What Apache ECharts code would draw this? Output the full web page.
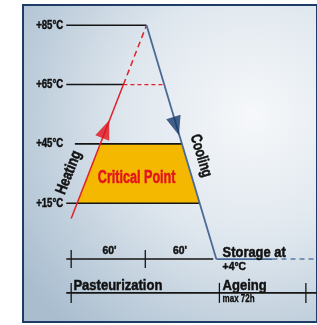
<!DOCTYPE html>
<html>
<head>
<meta charset="utf-8">
<script src="https://cdn.jsdelivr.net/npm/echarts@6/dist/echarts.min.js"></script>
<style>
    html, body {margin: 0; padding: 0; background: #fff;}
    #main {width: 317px; height: 325px;}
</style>
</head>
<body>
<div id="main"></div>
<script>
// temperature scale of the diagram is stretched: each labelled step gets one row
const tempTicks = [4, 15, 45, 65, 85];
const tickRows = [-0.94, 0, 1, 2, 3];
const axisTemps = [15, 45, 65, 85];
const axisLabels = ['+15°C', '+45°C', '+65°C', '+85°C'];

// process curve (minutes, °C)
const heatTime = [0, 42.3];
const heatTemp = [12, 65];
const heatDashTime = [42.3, 61];
const heatDashTemp = [65, 85];
const coolTime = [61, 117.5];
const coolTemp = [85, 4];
const storeTime = [117.5, 163];
const storeDashTime = [163, 199];
const storeTemp = 4;
const holdTime = [42.3, 75.3];
const holdTemp = 65;

// critical zone between heating and cooling
const critTime = [4.8, 23.5, 89.7, 104];
const critTemp = [15, 45, 45, 15];

// horizontal guides from the temperature labels
const guideTemp = [85, 65, 45, 15];
const guideStart = [-4, -4, 3, -4];
const guideEnd = [61, 42.3, 89.7, 104];

// time rows
const timeTicks = [0, 60];
const timeLabelAt = [31, 88];
const timeLabels = ["60'", "60'"];
const timeLineEnd = 115;
const phaseTicks = [0, 120, 190];
const phaseNames = ['Pasteurization', 'Ageing'];
const phaseNameAt = [1.8, 122.6];

const FONT = "'Liberation Sans', Arial, sans-serif";
const PHASE_ROW = -1.51;
const LABEL_TIME = -6.4;

function row(temp) {
    for (let i = 0; i < tempTicks.length - 1; i++) {
        if (temp <= tempTicks[i + 1] || i === tempTicks.length - 2) {
            const f = (temp - tempTicks[i]) / (tempTicks[i + 1] - tempTicks[i]);
            return tickRows[i] + f * (tickRows[i + 1] - tickRows[i]);
        }
    }
}

const pairs = (ts, temps) => ts.map((t, i) => [t, row(Array.isArray(temps) ? temps[i] : temps)]);

function line(data, color, width, type) {
    return {
        type: 'line', data: data, showSymbol: false, silent: true, clip: false,
        lineStyle: {color: color, width: width, type: type || 'solid'}
    };
}

// condensed bold text placed through the axes
function text(x, y, str, o) {
    o = Object.assign({size: 12, color: '#111', align: 'center', va: 'middle', rot: 0, sx: 0.8, dx: 0, dy: 0, bold: 0.5}, o);
    return {
        type: 'custom', silent: true, data: [[x, y]], z: 10,
        renderItem: (params, api) => {
            const p = api.coord([api.value(0), api.value(1)]);
            return {
                type: 'text', x: p[0] + o.dx, y: p[1] + o.dy,
                rotation: o.rot * Math.PI / 180, scaleX: o.sx,
                style: {
                    text: str, fill: o.color, font: `bold ${o.size}px ${FONT}`,
                    stroke: o.color, lineWidth: o.bold,
                    align: o.align, verticalAlign: o.va
                }
            };
        }
    };
}

function ticks(ts, y, half, color) {
    return {
        type: 'custom', silent: true, data: ts.map(t => [t, y]),
        renderItem: (params, api) => {
            const p = api.coord([api.value(0), api.value(1)]);
            return {
                type: 'line',
                shape: {x1: p[0], y1: p[1] - half, x2: p[0], y2: p[1] + half},
                style: {stroke: color, lineWidth: 1.3}
            };
        }
    };
}

function arrow(t, temp, rot, color) {
    return {
        type: 'scatter', silent: true, data: [[t, row(temp)]], symbol: 'triangle',
        symbolSize: [15, 19], symbolRotate: rot, itemStyle: {color: color}, z: 5
    };
}

const series = [];

series.push({
    type: 'custom', silent: true, data: [0],
    renderItem: (params, api) => ({
        type: 'polygon',
        shape: {points: critTime.map((t, i) => api.coord([t, row(critTemp[i])]))},
        style: {fill: '#f5b800'}
    })
});

guideTemp.forEach((tp, i) => {
    series.push(line([[guideStart[i], row(tp)], [guideEnd[i], row(tp)]], '#151515', 1.6));
});

series.push(line(pairs(holdTime, holdTemp), '#e2202a', 1.3, [4, 3]));
series.push(line(pairs(heatTime, heatTemp), '#e2202a', 1.5));
series.push(line(pairs(heatDashTime, heatDashTemp), '#e2202a', 1.5, [6, 4]));
series.push(line(pairs(coolTime, coolTemp), '#4a6a96', 1.8));
series.push(line(pairs(storeTime, storeTemp), '#4a6a96', 1.8));
series.push(line(pairs(storeDashTime, storeTemp), '#5a7aa6', 1.6, [5, 4]));

// time row and phase row
series.push(line([[-4, row(4)], [timeLineEnd, row(4)]], '#151515', 1.6));
series.push(ticks(timeTicks, row(4), 9, '#151515'));
series.push(line([[-4, PHASE_ROW], [199, PHASE_ROW]], '#151515', 1.6));
series.push(ticks(phaseTicks, PHASE_ROW, 10, '#151515'));

series.push(arrow(28, 50, -21.5, '#e2101c'));
series.push(arrow(85, 51, 197, '#163a6c'));

axisTemps.forEach((tp, i) => {
    series.push(text(LABEL_TIME, row(tp), axisLabels[i], {size: 12.5, sx: 0.77, align: 'right'}));
});
timeLabels.forEach((s, i) => {
    series.push(text(timeLabelAt[i], row(4), s, {size: 11.5, sx: 0.9, va: 'bottom', dy: -2}));
});
series.push(text(58, 61, "30'", {size: 11.5, sx: 0.9}));
phaseNames.forEach((s, i) => {
    series.push(text(phaseNameAt[i], PHASE_ROW, s, {size: 15.5, sx: 0.84, align: 'left', va: 'bottom', dy: 1}));
});
series.push(text(122.6, PHASE_ROW, 'max 72h', {size: 10, sx: 0.8, align: 'left', va: 'top', dy: 1, bold: 0.3}));
series.push(text(122.6, row(4), 'Storage at', {size: 15, sx: 0.86, align: 'left', va: 'bottom', dy: 1}));
series.push(text(122.6, row(4), '+4°C', {size: 11.5, sx: 0.9, align: 'left', va: 'top', dy: 2}));
series.push(text(53, row(27.5), 'Critical Point', {size: 17.5, sx: 0.72, color: '#e2141c'}));
series.push(text(-1.8, row(30.5), 'Heating', {size: 15.5, sx: 0.8, rot: 68.5}));
series.push(text(105, row(39), 'Cooling', {size: 15.5, sx: 0.76, rot: -73}));

const chart = echarts.init(document.getElementById('main'), null, {renderer: 'canvas'});
chart.setOption({
    animation: false,
    grid: {
        left: 23, top: 5, right: -5, bottom: 3, show: true,
        borderColor: '#1f3c68', borderWidth: 2,
        backgroundColor: {
            type: 'radial', x: 0.78, y: 0.35, r: 0.95,
            colorStops: [
                {offset: 0, color: '#f6f8fa'},
                {offset: 0.45, color: '#dfe7ee'},
                {offset: 1, color: '#a9bdcf'}
            ]
        }
    },
    xAxis: {type: 'value', min: -39, max: 199, show: false},
    yAxis: {
        type: 'value', min: -2, max: 3.34, interval: 1, show: false
    },
    series: series
});
</script>
</body>
</html>
